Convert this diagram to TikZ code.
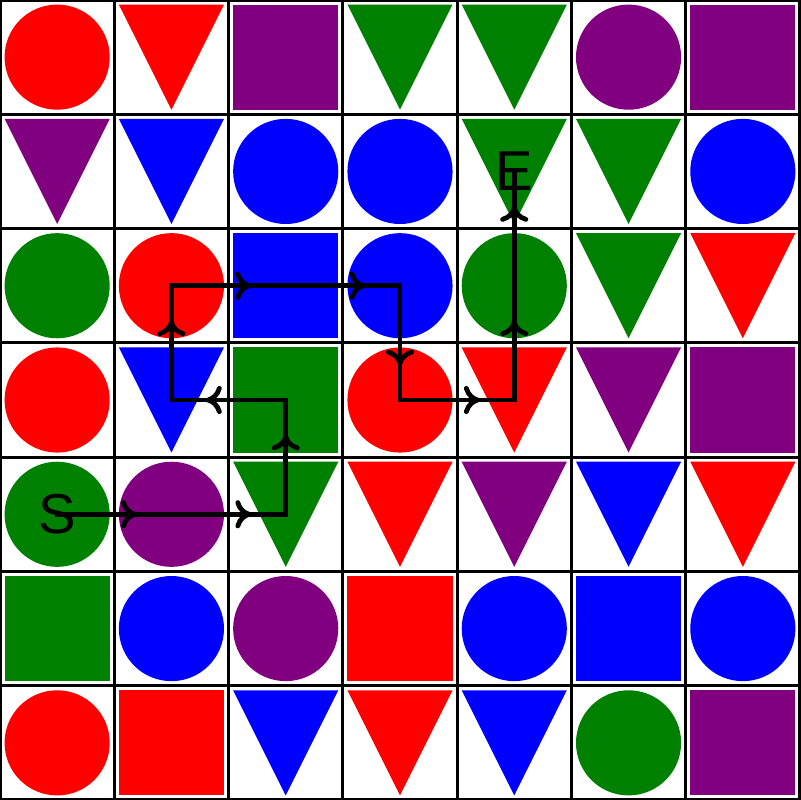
\documentclass[tikz,border=0pt]{standalone}
\usepackage{fontspec}
\setmainfont{Liberation Sans}
\usepackage{tikz}
\usetikzlibrary{
    arrows.meta,
    decorations.markings
}
\definecolor{rd}{HTML}{FF0000}
\definecolor{gn}{HTML}{008000}
\definecolor{bl}{HTML}{0000FF}
\definecolor{pu}{HTML}{800080}
\tikzset{
    gridline/.style={
        draw=black,
        line width=0.8pt
    }
}
\tikzset{
    pics/cellc/.style={
        code={\fill[#1] (0,0) circle (0.46);}
    },
    pics/cellt/.style={
        code={\fill[#1] (-0.46,0.46) -- (0.46,0.46) -- (0,-0.46) -- cycle;}
    },
    pics/cells/.style={
        code={\fill[#1] (-0.46,-0.46) rectangle (0.46,0.46);}
    }
}
\tikzset{
    marker/.style={
        font=\fontsize{14}{16}\selectfont,
        inner sep=0pt
    }
}
\tikzset{
    route/.style={
        draw=black,
        line width=1.2pt,
        line cap=rect,
        postaction={decorate},
        decoration={
            markings,
            mark=at position 0.7 with {\arrow{Computer Modern Rightarrow[length=4pt,width=7pt]}}
        }
    }
}

\begin{document}
\begin{tikzpicture}

\useasboundingbox (0,0) rectangle (7,7);

% board, row by row from the top
\foreach \rowlist [count=\r from 0] in {
    {c/rd,t/rd,s/pu,t/gn,t/gn,c/pu,s/pu},
    {t/pu,t/bl,c/bl,c/bl,t/gn,t/gn,c/bl},
    {c/gn,c/rd,s/bl,c/bl,c/gn,t/gn,t/rd},
    {c/rd,t/bl,s/gn,c/rd,t/rd,t/pu,s/pu},
    {c/gn,c/pu,t/gn,t/rd,t/pu,t/bl,t/rd},
    {s/gn,c/bl,c/pu,s/rd,c/bl,s/bl,c/bl},
    {c/rd,s/rd,t/bl,t/rd,t/bl,c/gn,s/pu}} {
    \foreach \shp/\clr [count=\c from 0] in \rowlist {
        \coordinate (c-\r-\c) at (\c+0.5, 6.5-\r);
        \pic at (c-\r-\c) {cell\shp=\clr};
    }
}

\draw[gridline] (0,0) grid (7,7);

\node[marker] (start) at (c-4-0) {S};
\node[marker] (end) at (c-1-4) {E};

\foreach \a/\b in {
    start.center/c-4-1, c-4-1/c-4-2, c-4-2/c-3-2, c-3-2/c-3-1,
    c-3-1/c-2-1, c-2-1/c-2-2, c-2-2/c-2-3, c-2-3/c-3-3,
    c-3-3/c-3-4, c-3-4/c-2-4, c-2-4/end.center} {
    \draw[route] (\a) -- (\b);
}

\end{tikzpicture}
\end{document}
